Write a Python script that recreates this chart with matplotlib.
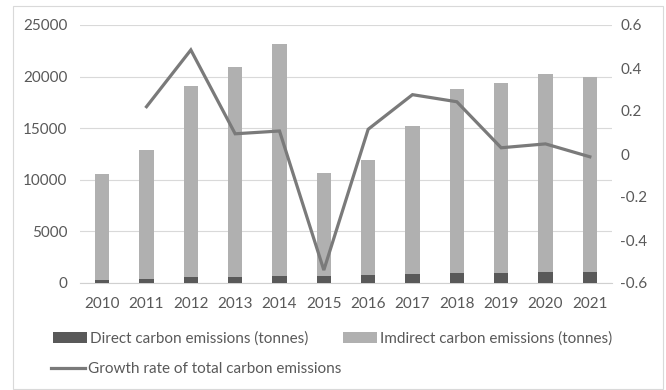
import numpy as np
import matplotlib
matplotlib.use("Agg")
import matplotlib.pyplot as plt
from matplotlib.patches import Rectangle

plt.rcParams['font.family'] = ['Lato', 'DejaVu Sans']
plt.rcParams['axes.unicode_minus'] = False

years = ['2010', '2011', '2012', '2013', '2014', '2015',
         '2016', '2017', '2018', '2019', '2020', '2021']
direct = [320, 420, 580, 580, 650, 710, 800, 870, 940, 970, 1030, 1030]
total = [10530, 12890, 19120, 20960, 23190, 10690,
         11890, 15180, 18830, 19410, 20250, 19990]
indirect = [t - d for t, d in zip(total, direct)]
growth = [np.nan, 0.22, 0.484, 0.094, 0.107, -0.54,
          0.115, 0.276, 0.243, 0.029, 0.047, -0.013]

left_ticks = [0, 5000, 10000, 15000, 20000, 25000]
right_ticks = [-0.6, -0.4, -0.2, 0, 0.2, 0.4, 0.6]
right_labels = ['-0.6', '-0.4', '-0.2', '0', '0.2', '0.4', '0.6']

W, H = 666, 390
FS = 11
fig = plt.figure(figsize=(W / 100, H / 100), dpi=100)
fig.patch.set_facecolor('white')
fig.patches.append(Rectangle((13 / W, 1 - 389 / H), (663 - 13) / W, (389 - 6) / H,
                             transform=fig.transFigure, fill=False,
                             edgecolor='#d9d9d9', linewidth=0.8))

ax = fig.add_axes([80 / W, 1 - 283 / H, (612 - 80) / W, (283 - 25) / H])
x = np.arange(len(years))
txt = '#595959'
dark = '#595959'
light = '#b0b0b0'
lcol = '#7a7a7a'

b1 = ax.bar(x, direct, width=0.32, color=dark, zorder=3,
            label='Direct carbon emissions (tonnes)')
b2 = ax.bar(x, indirect, bottom=direct, width=0.32, color=light, zorder=3,
            label='Imdirect carbon emissions (tonnes)')
ax.set_ylim(0, 25000)
ax.set_xlim(-0.5, len(years) - 0.5)
ax.set_yticks(left_ticks)
ax.set_yticklabels([str(v) for v in left_ticks])
ax.set_xticks(x)
ax.set_xticklabels(years)
ax.yaxis.grid(True, color='#d9d9d9', linewidth=0.8, zorder=0)
ax.set_axisbelow(True)
for s in ['top', 'right', 'left']:
    ax.spines[s].set_visible(False)
ax.spines['bottom'].set_color('#d0d0d0')
ax.spines['bottom'].set_linewidth(0.8)
ax.tick_params(axis='both', length=0, labelsize=FS, labelcolor=txt)
ax.tick_params(axis='y', pad=9)
ax.tick_params(axis='x', pad=10)

ax2 = ax.twinx()
ln, = ax2.plot(x, growth, color=lcol, linewidth=2.3, zorder=4,
               solid_joinstyle='miter',
               label='Growth rate of total carbon emissions')
ax2.set_ylim(-0.6, 0.6)
ax2.set_yticks(right_ticks)
ax2.set_yticklabels(right_labels)
for s in ax2.spines.values():
    s.set_visible(False)
ax2.tick_params(axis='y', length=0, labelsize=FS, labelcolor=txt, pad=6)

common = dict(frameon=False, loc='center left', borderpad=0, borderaxespad=0,
              handlelength=2.2, handletextpad=0.25, fontsize=FS,
              labelcolor=txt, bbox_transform=fig.transFigure)
fig.legend([b1], [b1.get_label()], bbox_to_anchor=(53 / W, 1 - 339 / H), **common)
fig.legend([b2], [b2.get_label()], bbox_to_anchor=(343 / W, 1 - 339 / H), **common)
fig.legend([ln], [ln.get_label()], bbox_to_anchor=(51 / W, 1 - 369 / H), **common)

fig.savefig('out.png', dpi=100)
